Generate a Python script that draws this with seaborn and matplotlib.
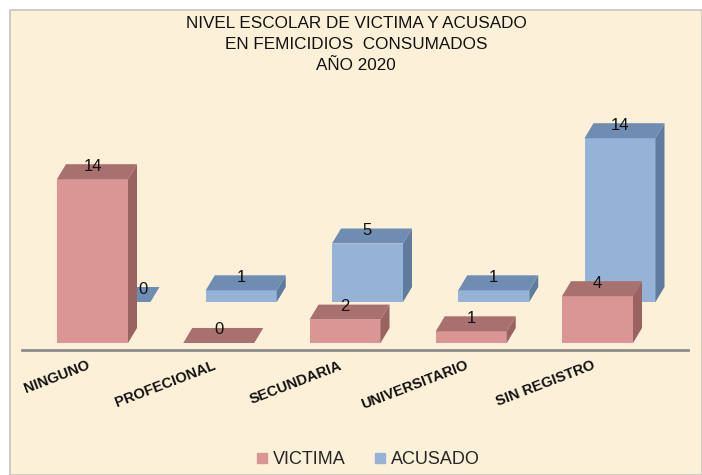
import pandas as pd
import matplotlib
matplotlib.use("Agg")
import matplotlib.pyplot as plt
from matplotlib.patches import Polygon, Rectangle
from matplotlib.lines import Line2D
from matplotlib.transforms import IdentityTransform, ScaledTranslation
import seaborn as sns

# data
categorias = ["NINGUNO", "PROFECIONAL", "SECUNDARIA", "UNIVERSITARIO", "SIN REGISTRO"]
victima = [14, 0, 2, 1, 4]
acusado = [0, 1, 5, 1, 14]
titulo = "NIVEL ESCOLAR DE VICTIMA Y ACUSADO\nEN FEMICIDIOS  CONSUMADOS\nAÑO 2020"

# layout (pixels)
W, H, DPI = 702, 475, 100
PX_X, PX_Y = 126.25, 11.7      # pixels per category step / per unit
X0, Y0 = 92.5, 132             # first category centre, value 0 (from bottom-left)
BACK_DX, BACK_DY = 22.5, 41    # shift of the back row
DEPTH_DX, DEPTH_DY = 9, 15     # 3d depth of each bar
XLIM = (-0.56, 4.72)
YLIM = (-0.6, 17)
BAR_W = 71 / PX_X

colores = {
    "VICTIMA": ("#D99694", "#A8706E", "#9A6260"),
    "ACUSADO": ("#95B3D7", "#6F8DB2", "#5F7C9F"),
}

sns.set_theme(style="white")
plt.rcParams["font.family"] = ["Liberation Sans", "DejaVu Sans"]

fig = plt.figure(figsize=(W / DPI, H / DPI), dpi=DPI, facecolor="white")
fig.patches.append(Rectangle((10 / W, 0), 1 - 10 / W, 1 - 10 / H, transform=fig.transFigure,
                             facecolor="#FCF0D8", edgecolor="#C8C4BC", lw=1.2, zorder=0))


def make_axes(dx, dy, z):
    left = X0 + dx + XLIM[0] * PX_X
    bottom = Y0 + dy + YLIM[0] * PX_Y
    ax = fig.add_axes([left / W, bottom / H, (XLIM[1] - XLIM[0]) * PX_X / W,
                       (YLIM[1] - YLIM[0]) * PX_Y / H])
    ax.set_zorder(z)
    ax.patch.set_visible(False)
    return ax


ax_back = make_axes(BACK_DX, BACK_DY, 1)
ax_front = make_axes(0, 0, 2)

df_v = pd.DataFrame({"nivel": categorias, "valor": victima})
df_a = pd.DataFrame({"nivel": categorias, "valor": acusado})

sns.barplot(data=df_a, x="nivel", y="valor", order=categorias, color=colores["ACUSADO"][0],
            saturation=1, width=BAR_W, ax=ax_back)
sns.barplot(data=df_v, x="nivel", y="valor", order=categorias, color=colores["VICTIMA"][0],
            saturation=1, width=BAR_W, ax=ax_front)

for ax in (ax_back, ax_front):
    ax.set_xlim(*XLIM)
    ax.set_ylim(*YLIM)
    ax.set_xlabel("")
    ax.set_ylabel("")
    ax.set_yticks([])
    for s in ax.spines.values():
        s.set_visible(False)


def add_depth(ax, serie, vals, otros=None):
    _, c_top, c_side = colores[serie]
    for i, bar in enumerate(list(ax.patches)):
        bar.set_edgecolor("none")
        (x0, y0), (x1, y1) = ax.transData.transform(bar.get_bbox().get_points())
        top = [(x0, y1), (x1, y1), (x1 + DEPTH_DX, y1 + DEPTH_DY), (x0 + DEPTH_DX, y1 + DEPTH_DY)]
        side = [(x1, y0), (x1 + DEPTH_DX, y0 + DEPTH_DY), (x1 + DEPTH_DX, y1 + DEPTH_DY), (x1, y1)]
        for pts, c in ((side, c_side), (top, c_top)):
            ax.add_artist(Polygon(pts, closed=True, transform=IdentityTransform(),
                                  facecolor=c, edgecolor="none", clip_on=False))
        # value label
        shift = 0
        if otros is not None and vals[i] == 0 and otros[i] > 0:
            shift = 28
        ax.annotate(str(vals[i]), (bar.get_x() + bar.get_width() / 2, vals[i]),
                    xytext=(shift, 13), textcoords="offset pixels",
                    ha="center", va="center", fontsize=12, color="#111111", zorder=5)


add_depth(ax_back, "ACUSADO", acusado, otros=victima)
add_depth(ax_front, "VICTIMA", victima)

ax_back.set_xticks([])
ax_front.spines["bottom"].set_visible(True)
ax_front.spines["bottom"].set_color("#8C8C8C")
ax_front.spines["bottom"].set_linewidth(2)
ax_front.tick_params(axis="x", length=0, pad=6)
ax_front.set_xticks(range(len(categorias)))
ax_front.set_xticklabels(categorias, rotation=21, ha="right", rotation_mode="anchor",
                         fontsize=10.5, fontweight="bold", color="#111111")
shift_lbl = ScaledTranslation(-6 / DPI, 0, fig.dpi_scale_trans)
for lbl in ax_front.get_xticklabels():
    lbl.set_transform(lbl.get_transform() + shift_lbl)

fig.text(356 / W, 1 - 16 / H, titulo, ha="center", va="top", fontsize=12.3,
         linespacing=1.5, color="#111111")

handles = [Line2D([], [], ls="", marker="s", markersize=7, color=colores[k][0]) for k in colores]
fig.legend(handles, list(colores), loc="center", bbox_to_anchor=(368 / W, 1 - 460 / H),
           ncol=2, frameon=False, fontsize=13, handlelength=0.6, handletextpad=0.3,
           columnspacing=1.6)

fig.savefig("out.png", dpi=DPI, facecolor=fig.get_facecolor())
